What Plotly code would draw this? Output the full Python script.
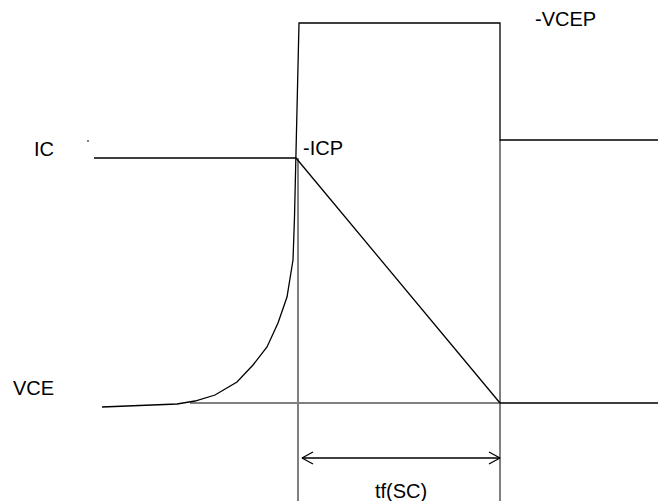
import plotly.graph_objects as go

vce_t = [102, 177, 195, 215, 237, 253, 267, 278, 287, 293, 294.5, 296, 299, 500, 500, 658]
vce_y = [407, 404, 401, 395, 382, 365, 347, 323, 297, 260, 217, 158, 23, 23, 140, 140]

ic_t = [94, 296, 500, 658]
ic_y = [158, 158, 403, 403]

# gray reference lines
base_t = [190, 500]
base_y = [403, 403]
mark1_t = [298, 298]
mark1_y = [158, 501]
mark2_t = [500, 500]
mark2_y = [140, 501]

# tf(SC) dimension arrow
arrow_t = [302, 500]
arrow_y = [458, 458]
head_l_t = [313, 302, 313]
head_l_y = [452, 458, 464]
head_r_t = [489, 500, 489]
head_r_y = [452, 458, 464]

labels = ['IC', '-ICP', '-VCEP', 'VCE', 'tf(SC)']
label_t = [33, 302, 534, 12, 374]
label_y = [149, 148, 19, 388, 491]

fig = go.Figure()

gray = dict(color='#808080', width=2)
black = dict(color='black', width=1.3)

fig.add_trace(go.Scatter(x=base_t, y=base_y, mode='lines', line=gray))
fig.add_trace(go.Scatter(x=mark1_t, y=mark1_y, mode='lines', line=gray))
fig.add_trace(go.Scatter(x=mark2_t, y=mark2_y, mode='lines', line=gray))

fig.add_trace(go.Scatter(x=vce_t, y=vce_y, mode='lines', line=black))
fig.add_trace(go.Scatter(x=ic_t, y=ic_y, mode='lines', line=black))
fig.add_trace(go.Scatter(x=[87, 89], y=[141, 141], mode='lines', line=dict(color='black', width=1)))

fig.add_trace(go.Scatter(x=arrow_t, y=arrow_y, mode='lines', line=black))
fig.add_trace(go.Scatter(x=head_l_t, y=head_l_y, mode='lines', line=black))
fig.add_trace(go.Scatter(x=head_r_t, y=head_r_y, mode='lines', line=black))

for text, t, y in zip(labels, label_t, label_y):
    fig.add_annotation(x=t, y=y, text=text, showarrow=False,
                       xanchor='left', yanchor='middle',
                       xshift=-1,
                       font=dict(family='Liberation Sans, Arial', size=20, color='black'))

fig.update_xaxes(range=[0, 659], visible=False)
fig.update_yaxes(range=[501, 0], visible=False)
fig.update_layout(
    width=659, height=501,
    margin=dict(l=0, r=0, t=0, b=0),
    showlegend=False,
    hovermode=False,
    plot_bgcolor='white', paper_bgcolor='white'
)

fig.write_html("out.html", config={'displayModeBar': False},
               post_script="document.body.style.margin='0';document.body.style.overflow='hidden';")
